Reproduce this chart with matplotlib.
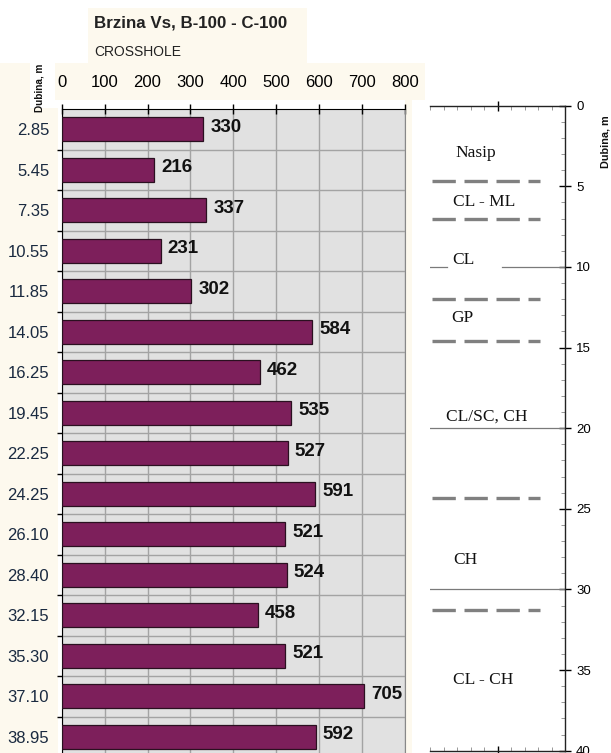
import matplotlib
matplotlib.use("Agg")
import matplotlib.pyplot as plt
from matplotlib.patches import Rectangle
from matplotlib.ticker import MultipleLocator, FixedLocator, NullFormatter
import numpy as np

# ---- data ----
depth_labels = ["2.85", "5.45", "7.35", "10.55", "11.85", "14.05", "16.25", "19.45",
                "22.25", "24.25", "26.10", "28.40", "32.15", "35.30", "37.10", "38.95"]
vs_values = [330, 216, 337, 231, 302, 584, 462, 535, 527, 591, 521, 524, 458, 521, 705, 592]
x_ticks = [0, 100, 200, 300, 400, 500, 600, 700, 800]

layer_names = ["Nasip", "CL - ML", "CL", "GP", "CL/SC, CH", "CH", "CL - CH"]
layer_label_depths = [2.93, 5.97, 9.57, 13.17, 19.3, 28.2, 35.6]
layer_label_x = [0.185, 0.17, 0.163, 0.156, 0.12, 0.17, 0.17]
dashed_depths = [4.65, 7.05, 12.0, 14.57, 24.35, 31.3]
solid_depths = [20, 30]
cl_line_depth = 10

W, H = 611, 753
fig = plt.figure(figsize=(W / 100, H / 100), dpi=100)
fig.patch.set_facecolor("white")

SANS = ["Liberation Sans", "DejaVu Sans"]
SERIF = ["Liberation Serif", "DejaVu Serif"]
BEIGE = "#FDF9EE"


def fx(px):
    return px / W


def fy(py):
    return 1 - py / H


def beige(x0, y0, x1, y1):
    fig.patches.append(Rectangle((fx(x0), fy(y1)), fx(x1) - fx(x0), fy(y0) - fy(y1),
                                 transform=fig.transFigure, facecolor=BEIGE,
                                 edgecolor="none", zorder=-10))


beige(88, 8, 307, 63)
beige(55, 63, 425, 100)
beige(0, 63, 30, 753)
beige(0, 108, 58, 753)
beige(405, 100, 412, 753)

# ---- left axes ----
top_px, row_px = 109, 40.5
n = len(vs_values)
bottom_px = top_px + n * row_px
ax = fig.add_axes([fx(61.7), fy(bottom_px), fx(405) - fx(61.7), fy(top_px) - fy(bottom_px)])
ax.set_facecolor("#E1E1E1")
ypos = np.arange(n)
ax.barh(ypos, vs_values, height=0.6, color="#7D1F5B", edgecolor="#2a1020",
        linewidth=0.9, zorder=3)
ax.set_xlim(0, 800)
ax.set_ylim(n - 0.5, -0.5)

ax.xaxis.tick_top()
ax.set_xticks(x_ticks)
ax.set_xticklabels([str(t) for t in x_ticks], fontsize=12, family=SANS)
ax.tick_params(axis="x", which="major", direction="inout", length=6.5, width=1,
               pad=10.5, colors="black")
ax.set_yticks(ypos)
ax.set_yticklabels(depth_labels, fontsize=12, family=SANS, color="#1a2a40")
ax.tick_params(axis="y", which="major", length=0, pad=9)
ax.yaxis.set_minor_locator(FixedLocator(ypos[:-1] + 0.5))
ax.tick_params(axis="y", which="minor", direction="out", length=3.5, width=1)
ax.grid(True, which="major", axis="x", color="#A3A3A3", linewidth=1, zorder=0)
ax.grid(True, which="minor", axis="y", color="#A3A3A3", linewidth=1, zorder=0)
ax.set_axisbelow(True)
ax.spines["bottom"].set_visible(False)
ax.spines["right"].set_color("#888888")
ax.spines["top"].set_color("black")
ax.spines["left"].set_color("black")

for y, v in zip(ypos, vs_values):
    ax.annotate(str(v), xy=(v, y), xytext=(5, 1.5), textcoords="offset points",
                ha="left", va="center", fontsize=13.5, fontweight="bold",
                family=SANS, color="#111111", zorder=4)

fig.text(fx(94), fy(22.5), "Brzina Vs, B-100 - C-100", fontsize=12.2, fontweight="bold",
         family=SANS, color="#222222", ha="left", va="center")
fig.text(fx(94), fy(52), "CROSSHOLE", fontsize=10, family=SANS, color="#222222",
         ha="left", va="center")
fig.text(fx(39), fy(88), "Dubina, m", fontsize=7.2, fontweight="bold", family=SANS,
         rotation=90, ha="center", va="center", color="#111111")

# ---- right axes (soil profile) ----
rt, rb = 105.7, 750.7
ax2 = fig.add_axes([fx(430), fy(rb), fx(565) - fx(430), fy(rt) - fy(rb)])
ax2.set_facecolor("none")
ax2.set_xlim(0, 1)
ax2.set_ylim(40, 0)
ax2.spines["left"].set_visible(False)
for s in ["top", "right", "bottom"]:
    ax2.spines[s].set_color("#222222")
    ax2.spines[s].set_linewidth(1)
ax2.yaxis.tick_right()
ax2.yaxis.set_major_locator(MultipleLocator(5))
ax2.yaxis.set_minor_locator(MultipleLocator(1))
ax2.tick_params(axis="y", which="major", direction="inout", length=8, width=1,
                labelsize=9.5, pad=4)
ax2.tick_params(axis="y", which="minor", direction="in", length=3, width=0.6,
                color="#888888")
for lab in ax2.get_yticklabels():
    lab.set_family(SANS)
ax2.xaxis.set_ticks_position("both")
ax2.xaxis.set_major_locator(FixedLocator([0.5]))
ax2.xaxis.set_minor_locator(MultipleLocator(0.1))
ax2.xaxis.set_major_formatter(NullFormatter())
ax2.tick_params(axis="x", which="major", direction="inout", length=7, width=1)
ax2.tick_params(axis="x", which="minor", direction="in", length=3, width=0.6,
                color="#888888")

for d in dashed_depths:
    ax2.plot([0.015, 0.815], [d, d], color="#808080", linewidth=2.4,
             linestyle=(0, (7, 2.6)), solid_capstyle="butt", dash_capstyle="butt")
for d in solid_depths:
    ax2.plot([0, 1], [d, d], color="#7a7a7a", linewidth=0.9)
ax2.plot([0, 0.126], [cl_line_depth] * 2, color="#7a7a7a", linewidth=0.9)
ax2.plot([0.533, 1], [cl_line_depth] * 2, color="#7a7a7a", linewidth=0.9)

for name, d, x in zip(layer_names, layer_label_depths, layer_label_x):
    ax2.text(x, d, name, fontsize=12.5, family=SERIF, ha="left", va="center",
             color="#111111")

fig.text(fx(606), fy(142), "Dubina, m", fontsize=7.8, fontweight="bold", family=SANS,
         rotation=90, ha="center", va="center", color="#111111")

fig.savefig("out.png", dpi=100)
